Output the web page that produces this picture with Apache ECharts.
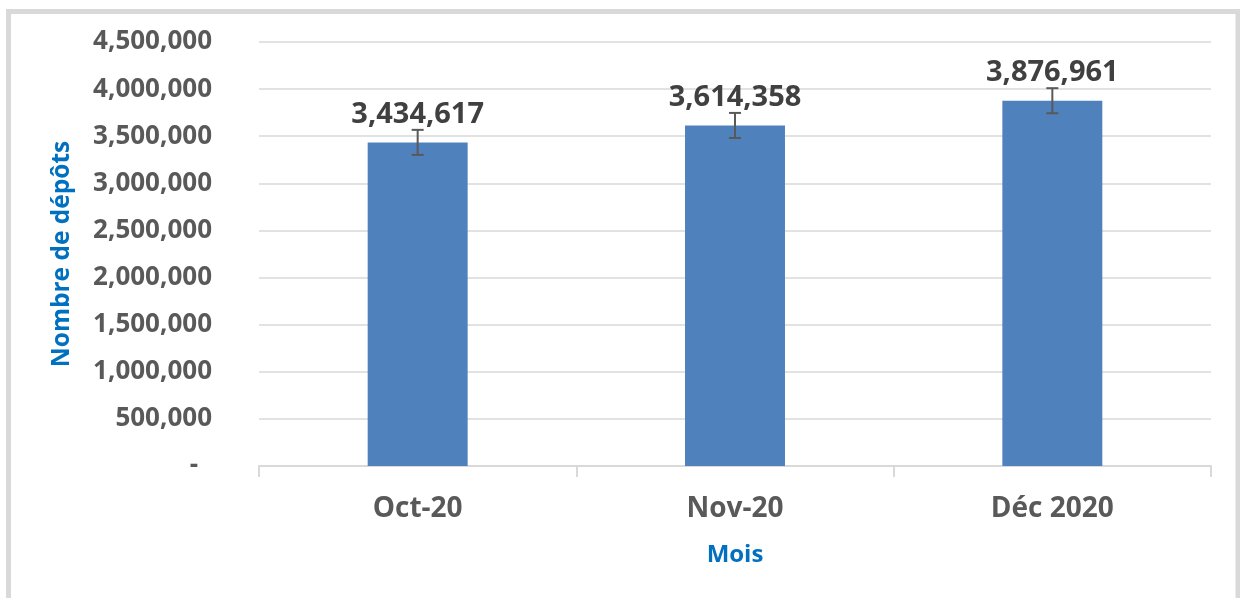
<!DOCTYPE html>
<html>
<head>
<meta charset="utf-8">
<script src="https://cdn.jsdelivr.net/npm/echarts@6/dist/echarts.min.js"></script>
<style>
html,body{margin:0;padding:0;background:#fff;}
#chart{width:1240px;height:598px;}
</style>
</head>
<body>
<div id="chart"></div>
<script>
var categories = ['Oct-20', 'Nov-20', 'Déc 2020'];
var values = [3434617, 3614358, 3876961];
var errors = [133000, 133000, 133000];
var yTicks = [0, 500000, 1000000, 1500000, 2000000, 2500000, 3000000, 3500000, 4000000, 4500000];

function fmt(v) { return v.toString().replace(/\B(?=(\d{3})+(?!\d))/g, ','); }

var chart = echarts.init(document.getElementById('chart'));
var FONT = '"Open Sans", sans-serif';
chart.setOption({
  animation: false,
  backgroundColor: '#fff',
  textStyle: { fontFamily: FONT },
  graphic: [{
    type: 'rect', z: 100, silent: true,
    shape: { x: 8.5, y: 11.5, width: 1229.5, height: 700 },
    style: { fill: 'none', stroke: '#d9d9d9', lineWidth: 5 }
  }],
  grid: { left: 259, right: 29, top: 42, bottom: 132 },
  xAxis: {
    type: 'category',
    data: categories,
    name: 'Mois',
    nameLocation: 'middle',
    nameGap: 77,
    nameTextStyle: { color: '#0070C0', fontSize: 24, fontWeight: 'bold', fontFamily: FONT },
    axisLine: { lineStyle: { color: '#d9d9d9', width: 2 } },
    axisTick: { show: true, length: 11, lineStyle: { color: '#d9d9d9', width: 2 } },
    axisLabel: { color: '#595959', fontSize: 28, fontWeight: 'bold', margin: 29, fontFamily: FONT }
  },
  yAxis: {
    type: 'value',
    min: yTicks[0],
    max: yTicks[yTicks.length - 1],
    interval: yTicks[1] - yTicks[0],
    name: 'Nombre de dépôts',
    nameLocation: 'middle',
    nameGap: 184,
    nameTextStyle: { color: '#0070C0', fontSize: 24.5, fontWeight: 'bold', fontFamily: FONT },
    axisLine: { show: false },
    axisTick: { show: false },
    splitLine: { lineStyle: { color: '#d9d9d9', width: 1.5 } },
    axisLabel: {
      color: '#595959', fontSize: 26, fontWeight: 'bold', margin: 47, fontFamily: FONT,
      formatter: function (v) { return v === 0 ? '{z|-}' : fmt(v); },
      rich: { z: { color: '#595959', fontSize: 26, fontWeight: 'bold', padding: [0, 14, 0, 0], fontFamily: FONT } }
    }
  },
  series: [{
    type: 'bar',
    data: values,
    barWidth: '31.5%',
    itemStyle: { color: '#4F81BD' },
    label: {
      show: true, position: 'top', distance: 13,
      color: '#404040', fontSize: 29, fontWeight: 'bold', fontFamily: FONT,
      formatter: function (p) { return fmt(p.value); }
    }
  }, {
    type: 'custom',
    data: values.map(function (v, i) { return [i, v - errors[i], v + errors[i]]; }),
    z: 10,
    renderItem: function (params, api) {
      var lo = api.coord([api.value(0), api.value(1)]);
      var hi = api.coord([api.value(0), api.value(2)]);
      var hw = 6;
      var st = { stroke: '#595959', lineWidth: 2 };
      return { type: 'group', children: [
        { type: 'line', shape: { x1: hi[0], y1: hi[1], x2: lo[0], y2: lo[1] }, style: st },
        { type: 'line', shape: { x1: hi[0] - hw, y1: hi[1], x2: hi[0] + hw, y2: hi[1] }, style: st },
        { type: 'line', shape: { x1: lo[0] - hw, y1: lo[1], x2: lo[0] + hw, y2: lo[1] }, style: st }
      ]};
    }
  }]
});
</script>
</body>
</html>
